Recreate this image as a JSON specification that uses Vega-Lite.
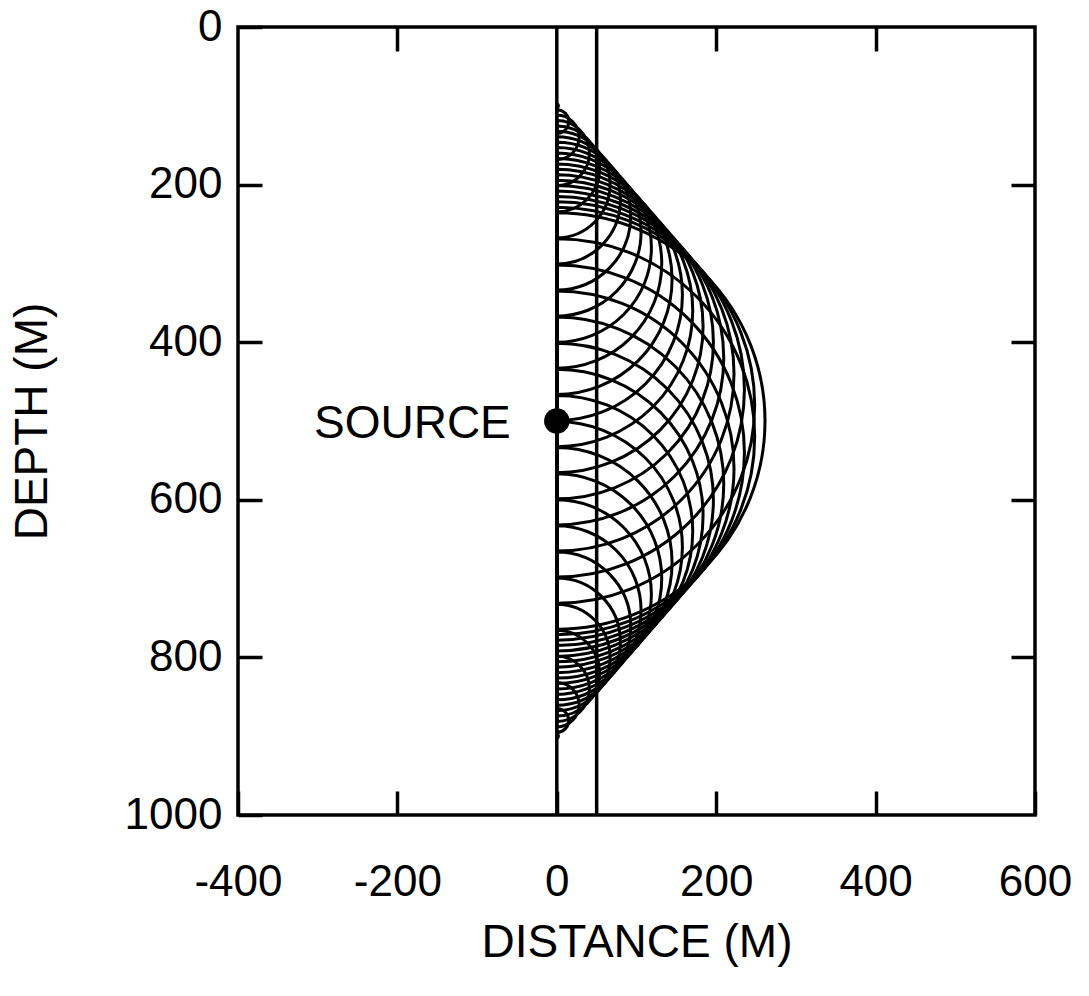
{
  "$schema": "https://vega.github.io/schema/vega-lite/v6.json",
  "width": 797,
  "height": 788,
  "autosize": {"type": "none"},
  "padding": {"left": 238, "top": 27, "right": 54, "bottom": 181},
  "background": "white",
  "config": {
    "view": {"stroke": "black", "strokeWidth": 3.5},
    "font": "Liberation Sans"
  },
  "datasets": {
    "circles": [
      {"depth": 100, "r": 2}, {"depth": 120, "r": 15}, {"depth": 140, "r": 28}, {"depth": 160, "r": 41},
      {"depth": 180, "r": 54}, {"depth": 200, "r": 67}, {"depth": 220, "r": 80}, {"depth": 240, "r": 93},
      {"depth": 260, "r": 106}, {"depth": 280, "r": 119}, {"depth": 300, "r": 132}, {"depth": 320, "r": 145},
      {"depth": 340, "r": 158}, {"depth": 360, "r": 171}, {"depth": 380, "r": 184}, {"depth": 400, "r": 197},
      {"depth": 420, "r": 210}, {"depth": 440, "r": 223}, {"depth": 460, "r": 236}, {"depth": 480, "r": 249},
      {"depth": 500, "r": 262},
      {"depth": 520, "r": 249}, {"depth": 540, "r": 236}, {"depth": 560, "r": 223}, {"depth": 580, "r": 210},
      {"depth": 600, "r": 197}, {"depth": 620, "r": 184}, {"depth": 640, "r": 171}, {"depth": 660, "r": 158},
      {"depth": 680, "r": 145}, {"depth": 700, "r": 132}, {"depth": 720, "r": 119}, {"depth": 740, "r": 106},
      {"depth": 760, "r": 93}, {"depth": 780, "r": 80}, {"depth": 800, "r": 67}, {"depth": 820, "r": 54},
      {"depth": 840, "r": 41}, {"depth": 860, "r": 28}, {"depth": 880, "r": 15}, {"depth": 900, "r": 2}
    ],
    "lines": [{"dist": 0}, {"dist": 50}],
    "source": [{"dist": 0, "depth": 500, "label": "SOURCE"}]
  },
  "layer": [
    {
      "data": {"name": "circles"},
      "mark": {"type": "arc", "theta": 0, "theta2": 3.14159265, "filled": false, "color": "black", "stroke": "black", "strokeWidth": 3},
      "encoding": {
        "x": {
          "datum": 0, "type": "quantitative",
          "scale": {"domain": [-400, 600], "nice": false, "zero": false},
          "axis": {
            "orient": "bottom", "values": [-400, -200, 0, 200, 400, 600],
            "labelExpr": "'' + datum.value",
            "domain": false, "grid": false,
            "tickSize": -24, "tickWidth": 3.5, "tickColor": "black",
            "labelFont": "Liberation Sans", "labelFontSize": 44, "labelColor": "black",
            "labelPadding": 69, "labelFlush": false, "labelOverlap": false, "labelBound": false,
            "title": "DISTANCE (M)", "titleFont": "Liberation Sans", "titleFontSize": 46,
            "titleFontWeight": "normal", "titleColor": "black", "titlePadding": 16
          }
        },
        "y": {
          "field": "depth", "type": "quantitative", "stack": null,
          "scale": {"domain": [0, 1000], "reverse": true, "nice": false, "zero": false},
          "axis": {
            "orient": "left", "values": [0, 200, 400, 600, 800, 1000],
            "labelExpr": "'' + datum.value",
            "domain": false, "grid": false,
            "tickSize": -24, "tickWidth": 3.5, "tickColor": "black",
            "labelFont": "Liberation Sans", "labelFontSize": 44, "labelColor": "black",
            "labelPadding": 40, "labelFlush": false, "labelOverlap": false, "labelBound": false,
            "title": "DEPTH (M)", "titleFont": "Liberation Sans", "titleFontSize": 46,
            "titleFontWeight": "normal", "titleColor": "black", "titlePadding": 68
          }
        },
        "radius": {
          "field": "r", "type": "quantitative", "stack": null,
          "scale": {"type": "linear", "domain": [0, 1000], "range": [0, 795], "zero": true}
        }
      }
    },
    {
      "data": {"name": "lines"},
      "mark": {"type": "rule", "color": "black", "strokeWidth": 3.5},
      "encoding": {
        "x": {
          "field": "dist", "type": "quantitative",
          "scale": {"domain": [-400, 600], "nice": false, "zero": false},
          "axis": {
            "orient": "top", "values": [-200, 200, 400], "labels": false, "title": null,
            "domain": false, "grid": false, "tickSize": -24, "tickWidth": 3.5, "tickColor": "black"
          }
        }
      }
    },
    {
      "data": {"name": "source"},
      "mark": {"type": "point", "shape": "circle", "filled": true, "color": "black", "opacity": 1, "size": 650},
      "encoding": {
        "x": {"field": "dist", "type": "quantitative", "scale": {"domain": [-400, 600], "nice": false, "zero": false}, "axis": null},
        "y": {
          "field": "depth", "type": "quantitative",
          "scale": {"domain": [0, 1000], "reverse": true, "nice": false, "zero": false},
          "axis": {
            "orient": "right", "values": [200, 400, 600, 800], "labels": false, "title": null,
            "domain": false, "grid": false, "tickSize": -24, "tickWidth": 3.5, "tickColor": "black"
          }
        }
      }
    },
    {
      "data": {"name": "source"},
      "mark": {"type": "text", "align": "right", "baseline": "middle", "dx": -46, "dy": 3, "font": "Liberation Sans", "fontSize": 46, "color": "black"},
      "encoding": {
        "x": {"field": "dist", "type": "quantitative", "scale": {"domain": [-400, 600], "nice": false, "zero": false}, "axis": null},
        "y": {"field": "depth", "type": "quantitative", "scale": {"domain": [0, 1000], "reverse": true, "nice": false, "zero": false}, "axis": null},
        "text": {"field": "label"}
      }
    }
  ],
  "resolve": {"axis": {"x": "independent", "y": "independent"}}
}
